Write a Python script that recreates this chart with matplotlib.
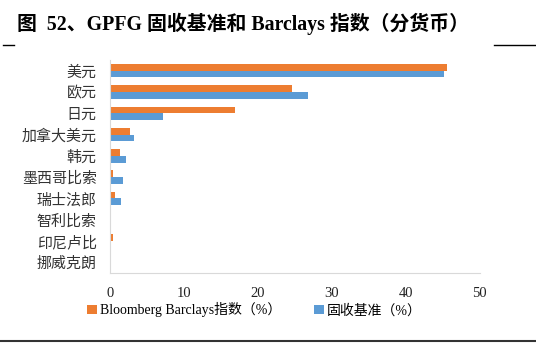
import matplotlib
matplotlib.use("Agg")
import matplotlib.pyplot as plt
import numpy as np

currencies = ["美元", "欧元", "日元", "加拿大美元", "韩元", "墨西哥比索", "瑞士法郎", "智利比索", "印尼卢比", "挪威克朗"]
barclays = [45.5, 24.6, 16.9, 2.7, 1.35, 0.35, 0.7, 0.0, 0.35, 0.0]
benchmark = [45.1, 26.8, 7.1, 3.3, 2.2, 1.7, 1.45, 0.0, 0.0, 0.0]
x_ticks = [0, 10, 20, 30, 40, 50]

cjk = ["Noto Sans CJK SC", "DejaVu Sans"]
serif_cjk = ["Liberation Serif", "Noto Sans CJK SC"]
plt.rcParams["font.family"] = serif_cjk

fig = plt.figure(figsize=(5.36, 3.49), dpi=100)
ax = fig.add_axes([0.2052, 0.2178, 0.690, 0.610])

y = np.arange(len(currencies))
h = 0.315
ax.barh(y - h / 2, barclays, height=h, color="#ED7D31", label="Bloomberg Barclays指数（%）")
ax.barh(y + h / 2, benchmark, height=h, color="#5B9BD5", label="固收基准（%）")

ax.set_ylim(len(currencies) - 0.5, -0.5)
ax.set_xlim(0, 50)
ax.set_yticks(y)
ax.set_yticklabels(currencies, fontsize=10.8, family=cjk, color="#333333")
ax.set_xticks(x_ticks)
ax.set_xticklabels([str(t) for t in x_ticks], fontsize=10.5, family="Liberation Serif", color="#222222")
ax.tick_params(length=0, pad=9.5)
ax.tick_params(axis="x", pad=10)
for s in ["top", "right"]:
    ax.spines[s].set_visible(False)
ax.spines["left"].set_color("#D9D9D9")
ax.spines["bottom"].set_color("#D9D9D9")

fig.legend(loc="center", bbox_to_anchor=(0.475, 0.112), ncol=2, frameon=False,
           handlelength=0.7, handleheight=0.7, handletextpad=0.2,
           columnspacing=2.4, prop={"family": serif_cjk, "size": 10})

fig.text(0.032, 0.932, "图  52、GPFG 固收基准和 Barclays 指数（分货币）", fontsize=14.3,
         fontweight="bold", family=serif_cjk, ha="left", va="center")
fig.add_artist(plt.Line2D([0.006, 0.026], [0.872, 0.872], color="black", lw=1))
fig.add_artist(plt.Line2D([0.922, 1.0], [0.872, 0.872], color="black", lw=1))
fig.add_artist(plt.Line2D([0.0, 1.0], [0.023, 0.023], color="#333333", lw=1.5))

fig.savefig("out.png", dpi=100)
